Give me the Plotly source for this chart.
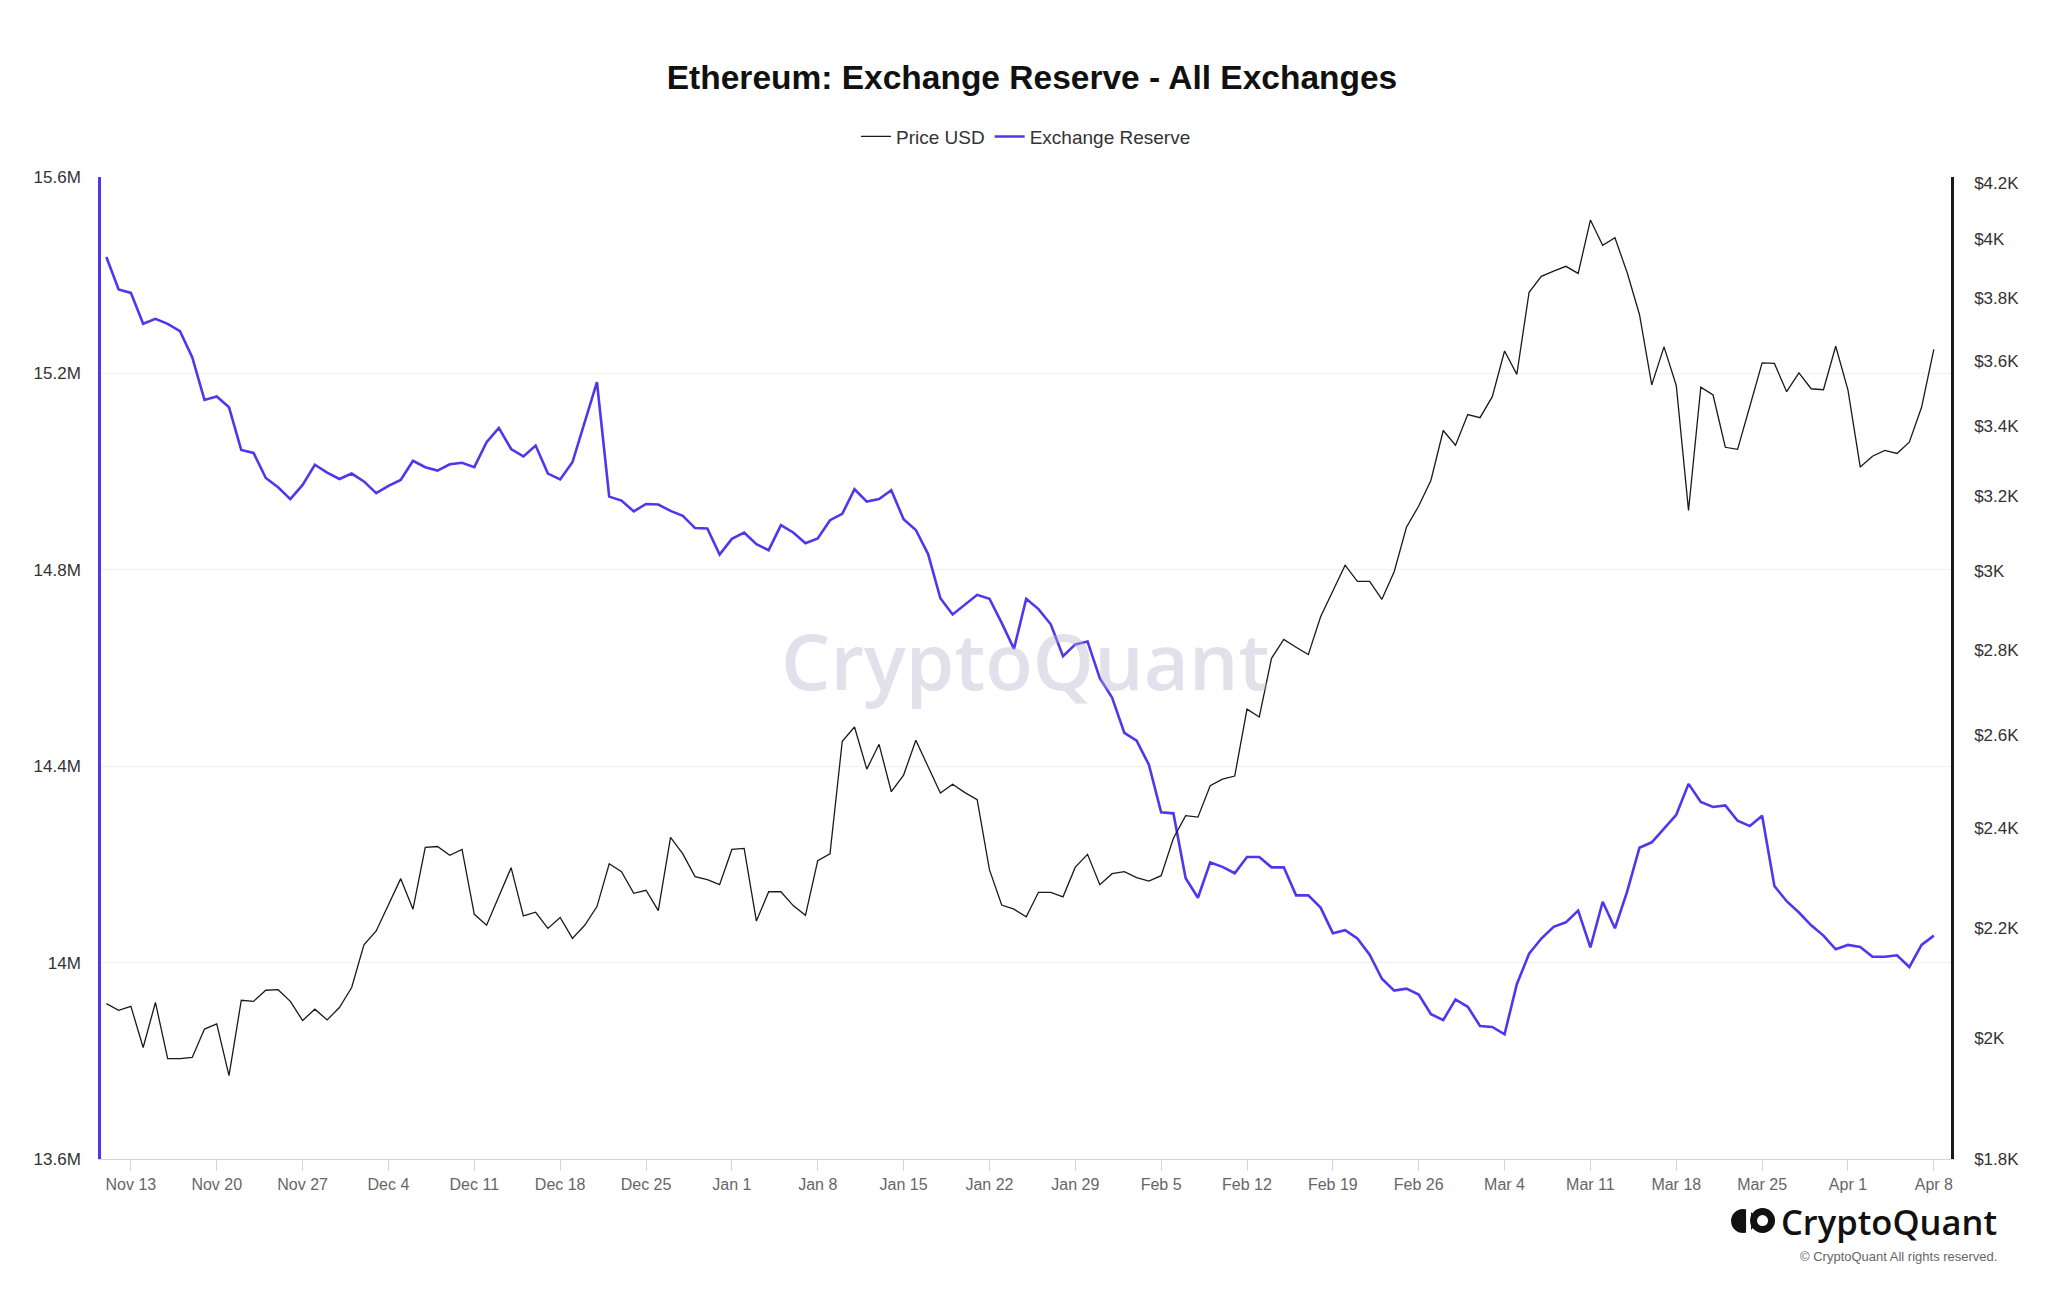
import pandas as pd
import numpy as np
import plotly.graph_objects as go

# ---------------- data ----------------
start_date = "2023-11-11"
n_days = 150
dates = pd.date_range(start_date, periods=n_days, freq="D")

exchange_reserve_m = [
    15.437, 15.371, 15.364, 15.301, 15.311, 15.301, 15.286, 15.233, 15.146, 15.153,
    15.131, 15.044, 15.038, 14.987, 14.968, 14.944, 14.973, 15.014, 14.998, 14.985,
    14.996, 14.980, 14.956, 14.971, 14.983, 15.022, 15.009, 15.002, 15.015, 15.018,
    15.009, 15.060, 15.089, 15.046, 15.031, 15.053, 14.996, 14.984, 15.019, 15.100,
    15.182, 14.949, 14.941, 14.919, 14.934, 14.933, 14.920, 14.910, 14.885, 14.884,
    14.831, 14.863, 14.876, 14.852, 14.840, 14.891, 14.876, 14.854, 14.864, 14.901,
    14.914, 14.964, 14.939, 14.944, 14.962, 14.903, 14.881, 14.832, 14.742, 14.709,
    14.730, 14.749, 14.741, 14.692, 14.639, 14.741, 14.720, 14.689, 14.624, 14.648,
    14.654, 14.579, 14.540, 14.468, 14.452, 14.403, 14.306, 14.304, 14.172, 14.132,
    14.204, 14.195, 14.182, 14.215, 14.215, 14.194, 14.194, 14.137, 14.137, 14.112,
    14.060, 14.066, 14.049, 14.016, 13.967, 13.943, 13.947, 13.935, 13.895, 13.883,
    13.925, 13.910, 13.871, 13.869, 13.854, 13.956, 14.018, 14.049, 14.073, 14.082,
    14.106, 14.031, 14.124, 14.070, 14.145, 14.234, 14.245, 14.273, 14.301, 14.364,
    14.327, 14.317, 14.320, 14.289, 14.278, 14.299, 14.156, 14.125, 14.102, 14.076,
    14.055, 14.027, 14.036, 14.032, 14.012, 14.012, 14.015, 13.991, 14.036, 14.055,
]

price_usd = [
    2060, 2048, 2055, 1983, 2062, 1964, 1964, 1966, 2015, 2024,
    1935, 2066, 2064, 2084, 2085, 2064, 2030, 2050, 2031, 2053,
    2089, 2168, 2194, 2245, 2296, 2236, 2359, 2361, 2343, 2355,
    2226, 2205, 2261, 2318, 2223, 2230, 2199, 2220, 2180, 2205,
    2241, 2326, 2310, 2267, 2273, 2233, 2380, 2346, 2300, 2294,
    2284, 2355, 2357, 2213, 2270, 2270, 2243, 2224, 2332, 2346,
    2587, 2619, 2525, 2580, 2476, 2512, 2589, 2530, 2473, 2492,
    2474, 2459, 2314, 2244, 2236, 2221, 2269, 2269, 2260, 2319,
    2345, 2284, 2306, 2310, 2298, 2291, 2302, 2378, 2425, 2422,
    2489, 2503, 2510, 2660, 2642, 2780, 2826, 2807, 2789, 2882,
    2947, 3014, 2972, 2972, 2926, 2997, 3115, 3173, 3245, 3388,
    3345, 3435, 3426, 3489, 3630, 3557, 3820, 3873, 3891, 3907,
    3883, 4067, 3979, 4005, 3885, 3747, 3525, 3643, 3523, 3161,
    3518, 3494, 3339, 3333, 3460, 3593, 3591, 3504, 3562, 3513,
    3510, 3645, 3509, 3282, 3313, 3330, 3321, 3354, 3457, 3635,
]

x_tick_dates = ["2023-11-13", "2023-11-20", "2023-11-27", "2023-12-04", "2023-12-11",
                "2023-12-18", "2023-12-25", "2024-01-01", "2024-01-08", "2024-01-15",
                "2024-01-22", "2024-01-29", "2024-02-05", "2024-02-12", "2024-02-19",
                "2024-02-26", "2024-03-04", "2024-03-11", "2024-03-18", "2024-03-25",
                "2024-04-01", "2024-04-08"]
x_tick_labels = ["Nov 13", "Nov 20", "Nov 27", "Dec 4", "Dec 11", "Dec 18", "Dec 25",
                 "Jan 1", "Jan 8", "Jan 15", "Jan 22", "Jan 29", "Feb 5", "Feb 12",
                 "Feb 19", "Feb 26", "Mar 4", "Mar 11", "Mar 18", "Mar 25", "Apr 1", "Apr 8"]

reserve_ticks = [13.6e6, 14.0e6, 14.4e6, 14.8e6, 15.2e6, 15.6e6]
reserve_tick_labels = ["13.6M", "14M", "14.4M", "14.8M", "15.2M", "15.6M"]

price_ticks = [1800, 2000, 2200, 2400, 2600, 2800, 3000, 3200, 3400, 3600, 3800, 4000, 4200]
price_tick_labels = ["$1.8K", "$2K", "$2.2K", "$2.4K", "$2.6K", "$2.8K", "$3K", "$3.2K",
                     "$3.4K", "$3.6K", "$3.8K", "$4K", "$4.2K"]

# ---------------- layout helpers ----------------
W, H = 2048, 1290
OX, OY = -7.5, -8.0
L, R, T, B = 100.6 + OX, 1951.0 + OX, 177.4 + OY, 1159.0 + OY
PW, PH = R - L, B - T


def px(x):
    return (x + OX - L) / PW


def py(y):
    return 1 - (y + OY - T) / PH


FONT = "Liberation Sans, Arial, Helvetica, sans-serif"
PURPLE = "#5236EE"

reserve_vals = [v * 1e6 for v in exchange_reserve_m]

fig = go.Figure()
fig.add_trace(go.Scatter(
    x=dates, y=price_usd, name="Price USD", mode="lines",
    line=dict(color="#1a1a1a", width=1.3), yaxis="y2",
))
fig.add_trace(go.Scatter(
    x=dates, y=reserve_vals, name="Exchange Reserve", mode="lines",
    line=dict(color=PURPLE, width=2.6), yaxis="y",
))

x0 = pd.Timestamp(start_date) - pd.Timedelta(hours=10.5)
x1 = pd.Timestamp(start_date) + pd.Timedelta(hours=24 * 150.4)

fig.update_layout(
    width=W, height=H,
    margin=dict(l=L, r=W - R, t=T, b=H - B, pad=0),
    paper_bgcolor="white", plot_bgcolor="white",
    font=dict(family=FONT, color="#333333", size=17),
    title=dict(text="<b>Ethereum: Exchange Reserve - All Exchanges</b>",
               x=0.5, xanchor="center", y=1 - (77 + OY) / H, yanchor="middle",
               font=dict(size=33.5, color="#111111", family=FONT)),
    showlegend=True,
    legend=dict(orientation="h", x=0.5, xanchor="center", y=py(137), yanchor="middle",
                font=dict(size=19, color="#333333"), bgcolor="rgba(0,0,0,0)",
                itemwidth=30, tracegroupgap=0),
    xaxis=dict(
        type="date", range=[x0, x1],
        tickvals=x_tick_dates, ticktext=x_tick_labels,
        ticks="outside", ticklen=11, tickcolor="#ccd6eb", tickwidth=1,
        showline=True, linecolor="#ccd6eb", linewidth=1,
        showgrid=False, zeroline=False,
        tickfont=dict(size=16, color="#666666"),
    ),
    yaxis=dict(
        range=[13.6e6, 15.6e6], tickvals=reserve_ticks, ticktext=reserve_tick_labels,
        showline=True, linecolor=PURPLE, linewidth=2.5,
        showgrid=True, gridcolor="#f0f0f0", gridwidth=1, zeroline=False,
        ticks="", ticklabelstandoff=14,
        tickfont=dict(size=17, color="#333333"),
    ),
    yaxis2=dict(
        overlaying="y", side="right", type="log",
        range=[np.log10(1800), np.log10(4222)],
        tickvals=price_ticks, ticktext=price_tick_labels,
        showline=True, linecolor="#1a1a1a", linewidth=2.5,
        showgrid=False, zeroline=False,
        ticks="", ticklabelstandoff=17,
        tickfont=dict(size=17, color="#333333"),
    ),
    hovermode=False,
)

annotations = [
    dict(text="CryptoQuant", xref="paper", yref="paper", x=px(1025), y=py(660),
         xanchor="center", yanchor="middle", showarrow=False,
         font=dict(family="Open Sans, sans-serif", size=78, color="rgba(180,178,204,0.40)", weight=600)),
    dict(text="CryptoQuant", xref="paper", yref="paper", x=px(1999), y=py(1221),
         xanchor="right", yanchor="middle", showarrow=False,
         font=dict(family="Open Sans, sans-serif", size=34.5, color="#111111", weight=600)),
    dict(text="© CryptoQuant All rights reserved.", xref="paper", yref="paper",
         x=px(1999), y=py(1256), xanchor="right", yanchor="middle", showarrow=False,
         font=dict(family=FONT, size=13, color="#666666")),
]
fig.update_layout(annotations=annotations)

shapes = [
    dict(type="circle", xref="paper", yref="paper",
         x0=px(1731), x1=px(1755), y0=py(1233), y1=py(1209),
         fillcolor="#111111", line=dict(width=0)),
    dict(type="rect", xref="paper", yref="paper",
         x0=px(1746), x1=px(1751), y0=py(1234), y1=py(1208),
         fillcolor="white", line=dict(width=0)),
    dict(type="circle", xref="paper", yref="paper",
         x0=px(1750), x1=px(1775), y0=py(1233), y1=py(1208),
         fillcolor="#111111", line=dict(width=0)),
    dict(type="circle", xref="paper", yref="paper",
         x0=px(1757), x1=px(1768), y0=py(1226), y1=py(1215),
         fillcolor="white", line=dict(width=0)),
]
fig.update_layout(shapes=shapes)

fig.write_html("out.html")
